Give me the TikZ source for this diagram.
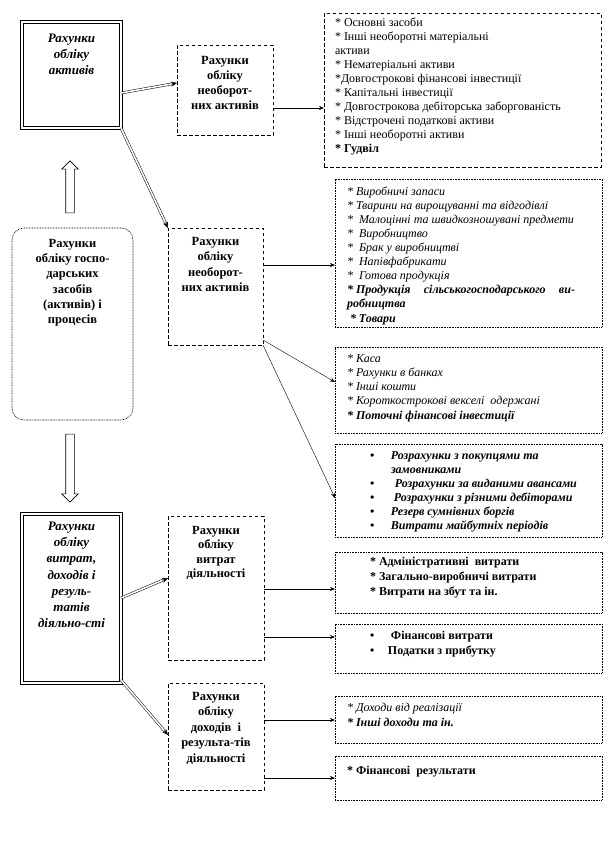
\documentclass[tikz,border=0pt]{standalone}
\usepackage{fontspec}
\setmainfont{Liberation Serif}
\usetikzlibrary{arrows.meta,shapes.arrows,calc}
\newcommand\bul{\makebox[21pt][l]{•}}
\begin{document}
\begin{tikzpicture}[x=1pt,y=-1pt,
  every node/.style={inner sep=0pt, outer sep=0pt},
  box/.style={anchor=north west, line width=0.7pt},
  dbox/.style={box, draw, double, double distance=2pt, line width=0.6pt},
  dashbox/.style={box, draw, dash pattern=on 3.5pt off 2.5pt},
  dotbox/.style={box, draw, line width=0.6pt, dash pattern=on 0.8pt off 0.8pt},
  title/.style={anchor=north, align=center, font=\fontsize{12.5}{#1}\selectfont\bfseries},
  ititle/.style={anchor=north, align=center, font=\fontsize{13}{#1}\selectfont\bfseries\itshape},
  list/.style={anchor=north west, align=left, font=\fontsize{12}{14}\selectfont},
  arr/.style={-{Stealth[length=5pt,width=4pt]}, line width=0.6pt},
  dline/.style={double, double distance=1.6pt, line width=0.5pt, shorten >=5pt},
  dtip/.style={-{Stealth[length=6pt,width=5pt]}, line width=0.5pt},
  blockarrow/.style={draw, single arrow, inner sep=4pt, single arrow head extend=4pt, line width=0.6pt},
]
\useasboundingbox (0,0) rectangle (612,852);

% boxes
\node[dbox, minimum width=99pt, minimum height=106pt] (b1) at (22,22) {};
\node[dashbox, minimum width=96pt, minimum height=90pt] (b2) at (177,45) {};
\node[dashbox, minimum width=277pt, minimum height=154pt] (l1) at (324,13) {};
\node[dotbox, rounded corners=12pt, minimum width=121pt, minimum height=192pt] (r) at (12,228) {};
\node[dashbox, minimum width=95pt, minimum height=117pt] (m1) at (168,228) {};
\node[dotbox, minimum width=267pt, minimum height=148pt] (l2) at (335,179) {};
\node[dotbox, minimum width=267pt, minimum height=86pt] (l3) at (335,347) {};
\node[dotbox, minimum width=267pt, minimum height=93pt] (l4) at (335,444) {};
\node[dbox, minimum width=99pt, minimum height=169pt] (bb) at (22,514) {};
\node[dashbox, minimum width=96pt, minimum height=144pt] (m2) at (168,516) {};
\node[dashbox, minimum width=96pt, minimum height=107pt] (m3) at (168,683) {};
\node[dotbox, minimum width=267pt, minimum height=61pt] (l5) at (335,552) {};
\node[dotbox, minimum width=267pt, minimum height=49pt] (l6) at (335,624) {};
\node[dotbox, minimum width=267pt, minimum height=47pt] (l7) at (335,696) {};
\node[dotbox, minimum width=267pt, minimum height=44pt] (l8) at (335,756) {};

% titles
\node[ititle=16] (t1) at (71.5,34) {Рахунки\\обліку\\активів};
\node[title=15] (t2) at (225,56) {Рахунки\\обліку\\необорот-\\них активів};
\node[title=15.3] (tr) at (72.5,239) {Рахунки\\обліку госпо-\\дарських\\засобів\\(активів) і\\процесів};
\node[title=15.5] (tm1) at (215.5,237) {Рахунки\\обліку\\необорот-\\них активів};
\node[ititle=16.2] (tbb) at (71.5,522) {Рахунки\\обліку\\витрат,\\доходів і\\резуль-\\татів\\діяльно-сті};
\node[title=14.5] (tm2) at (216,526) {Рахунки\\обліку\\витрат\\діяльності};
\node[title=15.5] (tm3) at (216,692) {Рахунки\\обліку\\доходів\ \ і\\результа-тів\\діяльності};

% list texts
\node[list] (tl1) at (335,18) {* Основні засоби\\* Інші необоротні матеріальні\\активи\\* Нематеріальні активи\\*Довгострокові фінансові інвестиції\\* Капітальні інвестиції\\* Довгострокова дебіторська заборгованість\\* Відстрочені податкові активи\\* Інші необоротні активи\\\textbf{* Гудвіл}};
\node[list, font=\fontsize{12}{14}\selectfont\itshape] (tl2) at (347,187) {* Виробничі запаси\\* Тварини на вирощуванні та відгодівлі\\*\ \ Малоцінні та швидкозношувані предмети\\*\ \ Виробництво\\*\ \ Брак у виробництві\\*\ \ Напівфабрикати\\*\ \ Готова продукція\\\makebox[228pt][s]{\textbf{\mbox{* Продукція} сільськогосподарського ви-}}\\\textbf{робництва}\\[1pt]\textbf{\ * Товари}};
\node[list, font=\fontsize{12}{14}\selectfont\itshape] (tl3) at (347,355) {* Каса\\* Рахунки в банках\\* Інші кошти\\* Короткострокові векселі\ \ одержані\\[1pt]\textbf{* Поточні фінансові інвестиції}};
\node[list, font=\fontsize{12}{14}\selectfont\bfseries\itshape] (tl4) at (370,452) {\bul Розрахунки з покупцями та\\\hspace*{21pt}замовниками\\\bul\hspace{4pt}Розрахунки за виданими авансами\\\bul\hspace{3pt}Розрахунки з різними дебіторами\\\bul Резерв сумнівних боргів\\\bul Витрати майбутніх періодів};
\node[list, font=\fontsize{12}{15}\selectfont\bfseries] (tl5) at (370,557) {* Адміністративні\ \ витрати\\* Загально-виробничі витрати\\* Витрати на збут та ін.};
\node[list, font=\fontsize{12}{15}\selectfont\bfseries] (tl6) at (370,631) {\bul Фінансові витрати\\\makebox[16pt][l]{•}\hspace{2pt}Податки з прибутку};
\node[list, font=\fontsize{12}{15}\selectfont\itshape] (tl7) at (347,703) {* Доходи від\ реалізації\\\textbf{* Інші доходи та ін.}};
\node[list, font=\fontsize{12}{15}\selectfont\bfseries] (tl8) at (347,766) {* Фінансові\ \ результати};

% block arrows
\node[blockarrow, shape border rotate=90, minimum height=52pt] (ua) at (70,189) {};
\node[blockarrow, shape border rotate=270, minimum height=68pt] (da) at (70,466) {};

% connector points
\coordinate (s1) at ([yshift=-63pt]b2.north east);
\coordinate (s2) at ([yshift=-37pt]m1.north east);
\coordinate (s3) at ([yshift=-112pt]m1.north east);
\coordinate (e3) at ([yshift=-35pt]l3.north west);
\coordinate (e4) at ([yshift=-54pt]l4.north west);
\coordinate (s5) at ([yshift=-73pt]m2.north east);
\coordinate (s6) at ([yshift=-121pt]m2.north east);
\coordinate (s7) at ([yshift=-37pt]m3.north east);
\coordinate (s8) at ([yshift=-95pt]m3.north east);
\coordinate (d1s) at ([yshift=-71pt]b1.north east);
\coordinate (d1e) at ([yshift=-38pt]b2.north west);
\coordinate (d3s) at ([yshift=-84pt]bb.north east);
\coordinate (d3e) at ([yshift=-62pt]m2.north west);
\coordinate (d4s) at ([yshift=-166pt]bb.north east);
\coordinate (d4e) at ([yshift=-52pt]m3.north west);

% single arrows
\draw[arr] (s1) -- (s1 -| l1.west);
\draw[arr] (s2) -- (s2 -| l2.west);
\draw[arr, line width=0.4pt] (s3) -- (e3);
\draw[arr, line width=0.4pt] (m1.south east) -- (e4);
\draw[arr] (s5) -- (s5 -| l5.west);
\draw[arr] (s6) -- (s6 -| l6.west);
\draw[arr] (s7) -- (s7 -| l7.west);
\draw[arr] (s8) -- (s8 -| l8.west);

% double arrows
\draw[dline] (d1s) -- (d1e);
\draw[dtip] ($(d1e)!6pt!(d1s)$) -- (d1e);
\draw[dline] (b1.south east) -- (m1.north west);
\draw[dtip] ($(m1.north west)!6pt!(b1.south east)$) -- (m1.north west);
\draw[dline] (d3s) -- (d3e);
\draw[dtip] ($(d3e)!6pt!(d3s)$) -- (d3e);
\draw[dline] (d4s) -- (d4e);
\draw[dtip] ($(d4e)!6pt!(d4s)$) -- (d4e);
\end{tikzpicture}
\end{document}
